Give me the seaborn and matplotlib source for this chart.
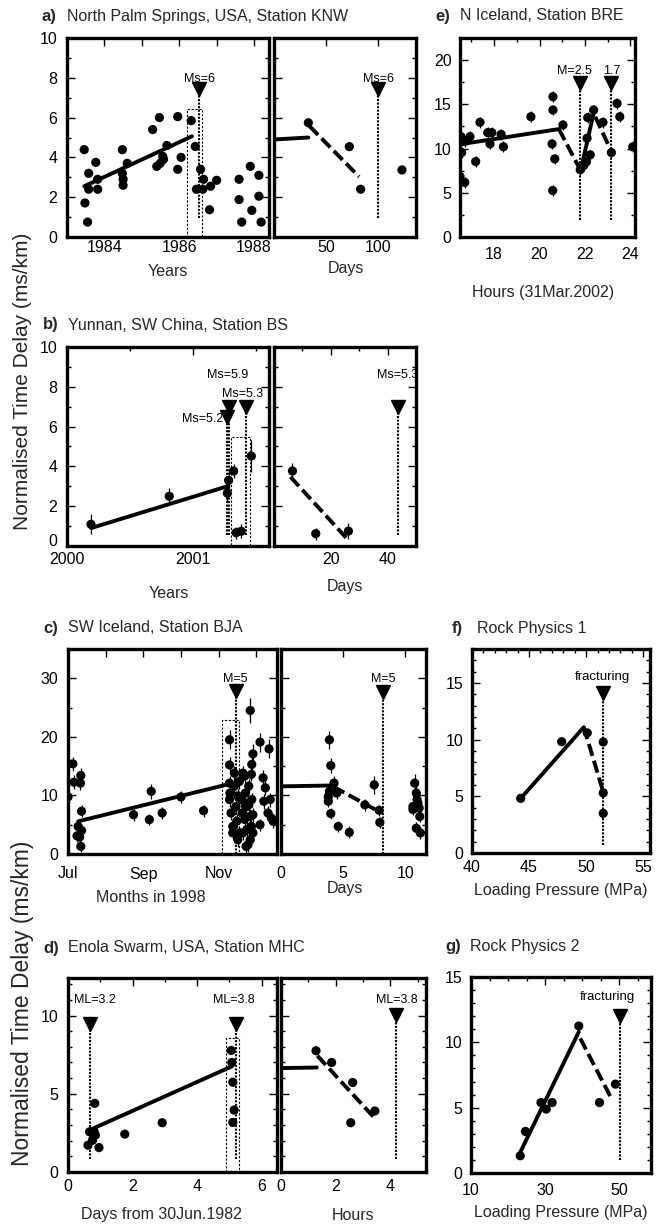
import numpy as np
import pandas as pd
import matplotlib
matplotlib.use("Agg")
import matplotlib.pyplot as plt
import seaborn as sns
from matplotlib.patches import Rectangle
from matplotlib.ticker import FixedLocator, FixedFormatter, MultipleLocator

# ---------------- data ----------------
# a) North Palm Springs, long term (decimal years)
a_years = [1983.46, 1983.48, 1983.55, 1983.58, 1983.58, 1983.77, 1983.82, 1983.82,
           1984.48, 1984.48, 1984.50, 1984.50, 1984.61, 1985.29, 1985.40, 1985.47,
           1985.49, 1985.56, 1985.58, 1985.67, 1985.96, 1985.96, 1986.05, 1986.32,
           1986.43, 1986.46, 1986.57, 1986.63, 1986.65, 1986.84, 1986.81, 1987.00,
           1987.60, 1987.60, 1987.67, 1987.90, 1987.94, 1988.13, 1988.13, 1988.19]
a_delay = [4.39, 1.71, 0.75, 3.20, 2.40, 3.75, 2.90, 2.40,
           4.39, 3.20, 2.90, 2.60, 3.70, 5.40, 3.55, 6.00,
           3.70, 4.05, 3.90, 4.60, 6.05, 3.40, 4.00, 5.85,
           4.55, 2.40, 3.40, 2.40, 2.90, 2.55, 1.37, 2.85,
           2.90, 1.88, 0.75, 3.55, 1.34, 3.10, 2.05, 0.75]
a_trend_x = [1983.46, 1986.34]
a_trend_y = [2.55, 5.06]
a_event = 1986.54
a_box = [1986.20, 1986.61, 6.45]
# a) right: days
a_days = [33.0, 72.4, 83.3, 123.0]
a_days_delay = [5.74, 4.54, 2.40, 3.37]
a_days_solid_x = [0.0, 33.0]
a_days_solid_y = [4.90, 5.00]
a_days_dash_x = [34.0, 81.7]
a_days_dash_y = [5.58, 3.03]
a_days_event = 100.3

# e) N Iceland, hours
e_hours = [16.50, 16.54, 16.57, 16.71, 16.71, 16.94, 17.19, 17.38, 17.72, 17.82,
           17.90, 18.31, 18.41, 19.62, 20.59, 20.59, 20.55, 20.58, 20.67, 21.03,
           21.79, 21.94, 22.09, 22.06, 22.12, 22.23, 22.38, 22.79, 23.16, 23.41,
           23.53, 24.10]
e_delay = [6.84, 11.35, 9.55, 6.17, 10.80, 11.35, 8.53, 12.97, 11.80, 10.53,
           11.80, 11.60, 10.20, 13.60, 15.86, 14.36, 10.53, 5.26, 8.83, 12.67,
           7.60, 8.08, 11.17, 8.50, 13.50, 9.29, 14.36, 12.97, 9.55, 15.10,
           13.60, 10.20]
e_solid1_x = [16.55, 20.85]
e_solid1_y = [10.50, 12.20]
e_dash1_x = [20.85, 21.75]
e_dash1_y = [12.20, 7.80]
e_solid2_x = [21.85, 22.38]
e_solid2_y = [8.00, 14.00]
e_dash2_x = [22.45, 23.10]
e_dash2_y = [13.60, 10.00]
e_events = [21.77, 23.16]
e_event_labels = ["M=2.5", "1.7"]

# b) Yunnan
b_years = [2000.19, 2000.81, 2001.27, 2001.28, 2001.32, 2001.34, 2001.38, 2001.46]
b_delay = [1.09, 2.50, 2.66, 3.30, 3.77, 0.67, 0.74, 4.52]
b_err = [0.50, 0.40, 0.40, 0.40, 0.35, 0.30, 0.35, 0.80]
b_trend_x = [2000.19, 2001.27]
b_trend_y = [0.90, 3.00]
b_events = [2001.27, 2001.28, 2001.42]
b_event_tops = [6.48, 6.98, 6.98]
b_event_labels = ["Ms=5.2", "Ms=5.9", "Ms=5.3"]
b_box = [2001.30, 2001.45, 5.48]
b_days = [6.5, 14.7, 26.2]
b_days_delay = [3.77, 0.62, 0.75]
b_days_err = [0.40, 0.30, 0.40]
b_days_dash_x = [5.8, 26.2]
b_days_dash_y = [3.47, 0.29]
b_days_event = 43.5

# c) SW Iceland (x = months after 1 Jul 1998)
c_month = [0.00, 0.13, 0.16, 0.34, 0.33, 0.27, 0.24, 0.31, 0.34, 0.36, 0.36,
           1.74, 2.16, 2.21, 2.50, 3.00, 3.60,
           4.29, 4.29, 4.29, 4.30, 4.29, 4.33, 4.375, 4.375, 4.42, 4.46, 4.48, 4.51,
           4.55, 4.60, 4.625, 4.64, 4.69, 4.71, 4.73, 4.75, 4.78, 4.80, 4.82, 4.84,
           4.87, 4.88, 4.91, 4.84, 4.88, 4.91, 4.78, 4.42, 4.64, 4.51, 4.69, 4.80,
           4.87, 4.55, 4.91, 4.73,
           5.10, 5.10, 5.18, 5.24, 5.20, 5.34, 5.37, 5.31, 5.40, 5.45]
c_delay = [9.74, 15.40, 12.25, 13.40, 12.10, 4.70, 3.10, 2.90, 1.30, 7.30, 4.00,
           6.70, 5.87, 10.70, 7.00, 9.74, 7.40,
           19.50, 15.20, 12.10, 10.40, 9.30, 7.00, 4.70, 3.60, 11.60, 8.10, 5.60, 2.45,
           12.40, 9.30, 7.00, 3.60, 13.30, 10.40, 8.10, 4.20, 1.60, 11.60, 6.40, 2.45,
           13.60, 15.30, 17.10, 24.50, 9.30, 6.70, 8.70, 13.80, 13.80, 9.90, 5.90, 8.40,
           4.70, 3.60, 3.60, 1.30,
           19.10, 5.00, 13.00, 11.30, 9.00, 17.95, 9.30, 7.00, 6.15, 5.60]
c_err = [1.5, 1.2, 1.2, 1.2, 1.2, 1.0, 1.0, 1.0, 1.0, 1.0, 1.0,
         1.0, 1.0, 1.3, 1.0, 1.0, 1.0,
         1.6, 1.4, 1.2, 1.2, 1.2, 1.2, 1.2, 1.2, 1.2, 1.2, 1.2, 1.2,
         1.2, 1.2, 1.2, 1.2, 1.2, 1.2, 1.2, 1.2, 1.2, 1.2, 1.2, 1.2,
         1.2, 1.2, 1.6, 2.2, 1.2, 1.2, 1.2, 1.2, 1.2, 1.2, 1.2, 1.2,
         1.2, 1.2, 1.2, 1.2,
         1.6, 1.0, 1.3, 1.3, 1.3, 1.6, 1.2, 1.2, 1.2, 1.2]
c_trend_x = [0.27, 4.22]
c_trend_y = [5.58, 11.85]
c_event = 4.45
c_box = [4.09, 4.55, 22.85]
c_days = [3.89, 4.00, 4.26, 3.80, 3.80, 3.90, 4.48, 4.00, 4.60, 5.49, 6.74, 7.49,
          7.89, 7.94, 10.74, 10.87, 10.60, 10.93, 11.10, 11.15, 10.87, 11.20, 10.60, 11.00]
c_days_delay = [19.5, 15.1, 12.1, 9.8, 9.0, 10.7, 10.4, 6.9, 4.7, 3.7, 8.4, 11.8,
                7.45, 5.4, 12.1, 10.4, 8.1, 9.3, 7.85, 6.4, 4.4, 3.6, 7.6, 8.7]
c_days_err = [1.5, 1.3, 1.2, 1.0, 1.0, 1.0, 1.0, 1.0, 1.0, 1.0, 1.0, 1.6,
              1.0, 1.0, 1.5, 1.2, 1.0, 1.0, 1.0, 1.0, 1.0, 1.0, 1.0, 1.0]
c_days_solid_x = [0.0, 4.2]
c_days_solid_y = [11.55, 11.70]
c_days_dash_x = [4.2, 8.0]
c_days_dash_y = [11.5, 7.1]
c_days_event = 8.2

# f) Rock Physics 1
f_press = [44.27, 47.86, 50.10, 51.50, 51.50, 51.50]
f_delay = [4.82, 9.82, 10.60, 9.80, 5.30, 3.50]
f_solid_x = [44.27, 49.80]
f_solid_y = [4.82, 11.10]
f_dash_x = [49.80, 51.45]
f_dash_y = [11.10, 5.56]
f_event = 51.5

# d) Enola swarm
d_days = [0.62, 0.67, 0.76, 0.83, 0.81, 0.85, 0.96, 1.76, 2.92, 5.06, 5.08, 5.11, 5.15, 5.11]
d_delay = [1.71, 2.57, 2.03, 4.39, 2.57, 2.36, 1.56, 2.42, 3.15, 7.77, 7.00, 5.74, 3.96, 3.17]
d_trend_x = [0.67, 5.08]
d_trend_y = [2.68, 6.75]
d_events = [0.67, 5.20]
d_event_labels = ["ML=3.2", "ML=3.8"]
d_box = [4.89, 5.31, 8.57]
d_hours = [1.28, 1.85, 2.62, 3.43, 2.55]
d_hours_delay = [7.75, 7.00, 5.72, 3.90, 3.15]
d_hours_solid_x = [0.0, 1.31]
d_hours_solid_y = [6.64, 6.68]
d_hours_dash_x = [1.33, 3.43]
d_hours_dash_y = [7.43, 3.43]
d_hours_event = 4.22

# g) Rock Physics 2
g_press = [23.3, 24.7, 28.9, 30.3, 31.9, 39.1, 44.7, 49.0]
g_delay = [1.32, 3.18, 5.39, 4.89, 5.39, 11.25, 5.39, 6.80]
g_solid_x = [23.2, 39.1]
g_solid_y = [1.53, 10.80]
g_dash_x = [39.5, 48.1]
g_dash_y = [10.30, 5.60]
g_event = 50.2

ylabel_text = "Normalised Time Delay (ms/km)"

# ---------------- style ----------------
sns.set_theme(style="white")
plt.rcParams["font.family"] = ["Liberation Sans", "DejaVu Sans"]
plt.rcParams["axes.linewidth"] = 2.4

W, H = 660, 1226
fig = plt.figure(figsize=(W / 100, H / 100), dpi=100)
fig.patch.set_facecolor("white")

DOT = 44
LW = 2.8
DASH = (0, (3.2, 1.3))
EVLS = (0, (1, 0.7))
TICKFS = 11.5


def add_ax(x0, y0, x1, y1):
    return fig.add_axes([x0 / W, 1 - y1 / H, (x1 - x0) / W, (y1 - y0) / H])


def style(ax, xlim, ylim, xmaj, xlab, xminor, ymaj, ylab, yminor, xpad=2, ypad=7):
    ax.set_xlim(*xlim)
    ax.set_ylim(*ylim)
    ax.xaxis.set_major_locator(FixedLocator(xmaj))
    ax.xaxis.set_major_formatter(FixedFormatter(xlab))
    ax.yaxis.set_major_locator(FixedLocator(ymaj))
    ax.yaxis.set_major_formatter(FixedFormatter(ylab))
    if xminor:
        ax.xaxis.set_minor_locator(MultipleLocator(xminor))
    if yminor:
        ax.yaxis.set_minor_locator(MultipleLocator(yminor))
    for s in ax.spines.values():
        s.set_linewidth(2.4)
        s.set_color("black")
    ax.tick_params(which="both", direction="in", top=True, right=True, left=True,
                   bottom=False, colors="black", width=1.0, labelsize=TICKFS)
    ax.tick_params(which="major", length=6)
    ax.tick_params(which="minor", length=3)
    ax.tick_params(axis="x", pad=xpad)
    ax.tick_params(axis="y", pad=ypad)
    ax.set_xlabel("")
    ax.set_ylabel("")
    ax.grid(False)
    ax.set_facecolor("white")


def dots(ax, x, y, err=None):
    if err is not None:
        ax.errorbar(x, y, yerr=err, fmt="none", ecolor="black", elinewidth=0.9, capsize=0, zorder=2)
    sns.scatterplot(x=x, y=y, ax=ax, color="black", s=DOT, edgecolor="none", legend=False, zorder=3)


def line(ax, x, y, dashed=False):
    kw = dict(color="black", lw=LW, estimator=None, sort=False, legend=False)
    if dashed:
        kw["linestyle"] = DASH
    sns.lineplot(x=x, y=y, ax=ax, **kw)


def event(ax, x, ytop, ybot, label=None, ylab=None, xlab=None, fs=9, ha="center"):
    ax.vlines(x, ybot, ytop, colors="black", linestyles=EVLS, linewidth=1.5, zorder=2)
    ax.plot([x], [ytop], marker="v", color="black", markersize=9.5, linestyle="none", zorder=4,
            clip_on=False)
    if label is not None:
        ax.text(x if xlab is None else xlab, ylab, label, ha=ha, va="center", fontsize=fs,
                color="black")


def box(ax, x0, x1, top):
    ax.add_patch(Rectangle((x0, 0), x1 - x0, top, fill=False, edgecolor="black",
                           linewidth=0.8, linestyle=(0, (2, 1.5)), zorder=1))


def title(px, py, letter, text):
    fig.text(px / W, 1 - py / H, letter, fontsize=12, fontweight="bold", ha="left", va="center")
    fig.text((px + 25) / W, 1 - py / H, text, fontsize=11.5, ha="left", va="center")


def xlabel(px, py, text):
    fig.text(px / W, 1 - py / H, text, fontsize=11.5, ha="center", va="center")


# ---------------- panel a ----------------
ax = add_ax(67, 38, 269, 237)
style(ax, (1983.0, 1988.4), (0, 10), [1984, 1985, 1986, 1987, 1988],
      ["1984", "", "1986", "", "1988"], None, [0, 2, 4, 6, 8, 10],
      ["0", "2", "4", "6", "8", "10"], 1, xpad=2)
box(ax, *a_box)
dots(ax, a_years, a_delay)
line(ax, a_trend_x, a_trend_y)
event(ax, a_event, 7.42, 0.95, "Ms=6", 7.95)

ax = add_ax(274, 38, 416, 237)
style(ax, (0, 136.5), (0, 10), [50, 100], ["50", "100"], None,
      [0, 2, 4, 6, 8, 10], [""] * 6, 1, xpad=2)
dots(ax, a_days, a_days_delay)
line(ax, a_days_solid_x, a_days_solid_y)
line(ax, a_days_dash_x, a_days_dash_y, dashed=True)
event(ax, a_days_event, 7.42, 0.95, "Ms=6", 7.95)

title(42, 16, "a)", "North Palm Springs, USA, Station KNW")
xlabel(168, 272, "Years")
xlabel(346, 269, "Days")

# ---------------- panel e ----------------
ax = add_ax(460, 38, 635, 237)
style(ax, (16.5, 24.2), (0, 22.5), [18, 20, 22, 24], ["18", "20", "22", "24"], 1,
      [0, 5, 10, 15, 20], ["0", "5", "10", "15", "20"], 2.5, xpad=7, ypad=6)
dots(ax, e_hours, e_delay, [0.6] * len(e_hours))
line(ax, e_solid1_x, e_solid1_y)
line(ax, e_dash1_x, e_dash1_y, dashed=True)
line(ax, e_solid2_x, e_solid2_y)
line(ax, e_dash2_x, e_dash2_y, dashed=True)
event(ax, e_events[0], 17.4, 1.95, e_event_labels[0], 18.8, 21.55)
event(ax, e_events[1], 17.4, 1.95, e_event_labels[1], 18.8)
title(435, 16, "e)", "N Iceland, Station BRE")
xlabel(543, 292, "Hours (31Mar.2002)")

# ---------------- panel b ----------------
ax = add_ax(67, 347, 269, 546)
style(ax, (2000.0, 2001.6), (0, 10), [2000, 2001], ["2000", "2001"], 0.5,
      [0, 2, 4, 6, 8, 10], ["0", "2", "4", "6", "8", "10"], 1, xpad=4.5)
fig.canvas.draw()
ax.get_yticklabels()[0].set_verticalalignment("baseline")
box(ax, *b_box)
dots(ax, b_years, b_delay, b_err)
line(ax, b_trend_x, b_trend_y)
event(ax, b_events[0], b_event_tops[0], 0.54, b_event_labels[0], 6.4, 2001.235, ha="right")
event(ax, b_events[1], b_event_tops[1], 0.54, b_event_labels[1], 8.57, 2001.27)
event(ax, b_events[2], b_event_tops[2], 0.54, b_event_labels[2], 7.65, 2001.39)

ax = add_ax(274, 347, 416, 546)
style(ax, (0, 50), (0, 10), [20, 40], ["20", "40"], 10,
      [0, 2, 4, 6, 8, 10], [""] * 6, 1, xpad=4.5)
dots(ax, b_days, b_days_delay, b_days_err)
line(ax, b_days_dash_x, b_days_dash_y, dashed=True)
event(ax, b_days_event, 6.98, 0.54, "Ms=5.3", 8.6)
title(43, 325, "b)", "Yunnan, SW China, Station BS")
xlabel(169, 593, "Years")
xlabel(345, 587, "Days")

# ---------------- panel c ----------------
ax = add_ax(68, 649, 277, 854)
style(ax, (0, 5.55), (0, 35), [0, 1, 2, 3, 4, 5], ["Jul", "", "Sep", "", "Nov", ""], None,
      [0, 10, 20, 30], ["0", "10", "20", "30"], 5, xpad=9)
box(ax, *c_box)
dots(ax, c_month, c_delay, c_err)
line(ax, c_trend_x, c_trend_y)
event(ax, c_event, 27.9, 0.0, "M=5", 29.8)

ax = add_ax(281, 649, 426, 854)
style(ax, (0, 11.65), (0, 35), [0, 5, 10], ["0", "5", "10"], None,
      [0, 10, 20, 30], [""] * 4, 5, xpad=9)
dots(ax, c_days, c_days_delay, c_days_err)
line(ax, c_days_solid_x, c_days_solid_y)
line(ax, c_days_dash_x, c_days_dash_y, dashed=True)
event(ax, c_days_event, 27.6, 0.0, "M=5", 29.8)
title(43, 628, "c)", "SW Iceland, Station BJA")
xlabel(151, 897, "Months in 1998")
xlabel(345, 888, "Days")

# ---------------- panel f ----------------
ax = add_ax(472, 649, 650, 853)
style(ax, (40.0, 55.6), (0, 18), [40, 45, 50, 55], ["40", "45", "50", "55"], 1,
      [0, 5, 10, 15], ["0", "5", "10", "15"], 1, xpad=5, ypad=6)
dots(ax, f_press, f_delay)
line(ax, f_solid_x, f_solid_y)
line(ax, f_dash_x, f_dash_y, dashed=True)
event(ax, f_event, 14.1, 0.74, "fracturing", 15.5, 51.4, fs=9.5)
title(452, 628, "f)", "Rock Physics 1")
xlabel(561, 890, "Loading Pressure (MPa)")

# ---------------- panel d ----------------
ax = add_ax(68, 978, 277, 1172)
style(ax, (0, 6.48), (0, 12.4), [0, 2, 4, 6], ["0", "2", "4", "6"], 1,
      [0, 5, 10], ["0", "5", "10"], 1, xpad=5)
box(ax, *d_box)
dots(ax, d_days, d_delay)
line(ax, d_trend_x, d_trend_y)
event(ax, d_events[0], 9.46, 0.86, d_event_labels[0], 11.0, 0.83)
event(ax, d_events[1], 9.46, 0.86, d_event_labels[1], 11.0, 5.13)

ax = add_ax(281, 978, 426, 1172)
style(ax, (0, 5.3), (0, 12.4), [0, 2, 4], ["0", "2", "4"], 1,
      [0, 5, 10], [""] * 3, 1, xpad=5)
dots(ax, d_hours, d_hours_delay)
line(ax, d_hours_solid_x, d_hours_solid_y)
line(ax, d_hours_dash_x, d_hours_dash_y, dashed=True)
event(ax, d_hours_event, 10.06, 0.86, "ML=3.8", 11.0)
title(43, 948, "d)", "Enola Swarm, USA, Station MHC")
xlabel(161, 1215, "Days from 30Jun.1982")
xlabel(353, 1215, "Hours")

# ---------------- panel g ----------------
ax = add_ax(471, 977, 651, 1173)
style(ax, (10, 58.6), (0, 15), [10, 30, 50], ["10", "30", "50"], 5,
      [0, 5, 10, 15], ["0", "5", "10", "15"], 1, xpad=7, ypad=6)
dots(ax, g_press, g_delay)
line(ax, g_solid_x, g_solid_y)
line(ax, g_dash_x, g_dash_y, dashed=True)
event(ax, g_event, 12.0, 1.0, "fracturing", 13.5, 46.8, fs=9.5)
title(445, 947, "g)", "Rock Physics 2")
xlabel(561, 1213, "Loading Pressure (MPa)")

# ---------------- shared y labels ----------------
fig.text(23 / W, 1 - 381 / H, ylabel_text, rotation=90, fontsize=15, ha="center", va="center")
fig.text(23 / W, 1 - 1003 / H, ylabel_text, rotation=90, fontsize=16.5, ha="center", va="center")

fig.savefig("out.png", dpi=100, facecolor="white")
